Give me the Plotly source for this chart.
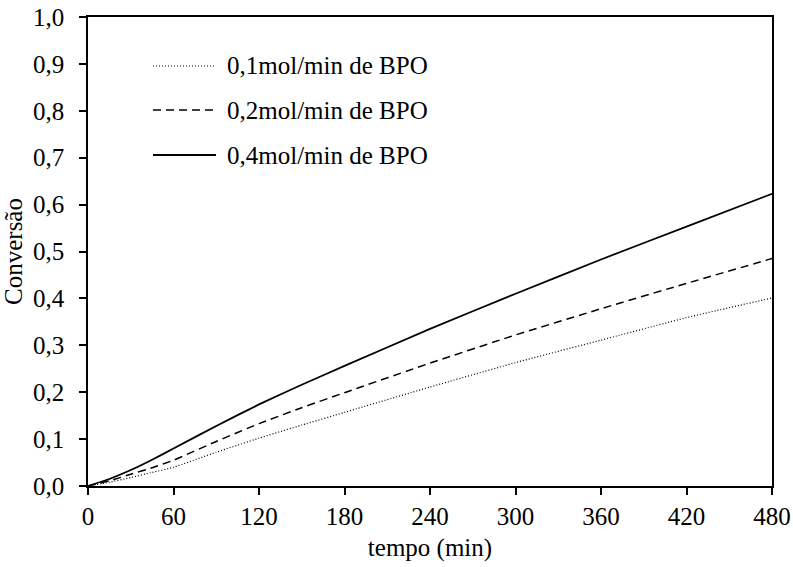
import plotly.graph_objects as go

tempo = [0, 15, 30, 45, 60, 90, 120, 150, 180, 240, 300, 360, 420, 480]
conv_01 = [0, 0.008, 0.018, 0.029, 0.040, 0.072, 0.102, 0.130, 0.157, 0.211, 0.263, 0.311, 0.359, 0.401]
conv_02 = [0, 0.011, 0.025, 0.039, 0.055, 0.095, 0.133, 0.167, 0.199, 0.262, 0.322, 0.378, 0.432, 0.485]
conv_04 = [0, 0.015, 0.034, 0.056, 0.080, 0.128, 0.174, 0.216, 0.256, 0.335, 0.410, 0.483, 0.553, 0.623]

labels = ["0,1mol/min de BPO", "0,2mol/min de BPO", "0,4mol/min de BPO"]
series = [conv_01, conv_02, conv_04]
dashes = ["1px,2px", "8px,5px", "solid"]
widths = [1.2, 1.5, 1.8]

FONT = "Liberation Serif"
FS = 25
fig = go.Figure()
for lab, ys, d, w in zip(labels, series, dashes, widths):
    fig.add_trace(go.Scatter(x=tempo, y=ys, mode="lines", name=lab,
                             line=dict(color="black", width=w, dash=d, shape="spline", smoothing=0.4),
                             showlegend=False))

# manual legend (paper coordinates)
legend_y = [66, 110, 155]
H = 567; T = 17; B = 81; L = 88; R = 21; W = 793
ph = H - T - B
pw = W - L - R
for lab, d, w, yp in zip(labels, dashes, widths, legend_y):
    yy = 1 - (yp - T) / ph
    x0 = (153 - L) / pw
    x1 = (216 - L) / pw
    fig.add_shape(type="line", xref="paper", yref="paper", x0=x0, x1=x1, y0=yy, y1=yy,
                  line=dict(color="black", width=w, dash=d))
    fig.add_annotation(xref="paper", yref="paper", x=(225 - L) / pw, y=yy, text=lab,
                       showarrow=False, xanchor="left", yanchor="middle",
                       font=dict(family=FONT, size=FS, color="black"))

fig.update_layout(
    width=W, height=H,
    margin=dict(l=L, r=R, t=T, b=B, autoexpand=False),
    paper_bgcolor="white", plot_bgcolor="white",
    separators=", ",
    font=dict(family=FONT, size=FS, color="black"),
    xaxis=dict(range=[0, 480], tickmode="linear", tick0=0, dtick=60,
               showgrid=False, zeroline=False, showline=True, mirror=True,
               linecolor="black", linewidth=1.5, ticks="outside", ticklen=7,
               tickwidth=1.5, tickcolor="black",
               tickfont=dict(family=FONT, size=FS),
               title=dict(text="tempo (min)", standoff=10, font=dict(family=FONT, size=FS))),
    yaxis=dict(range=[0, 1], tickmode="linear", tick0=0, dtick=0.1, tickformat=".1f",
               showgrid=False, zeroline=False, showline=True, mirror=True,
               linecolor="black", linewidth=1.5, ticks="outside", ticklen=7,
               tickwidth=1.5, tickcolor="black", ticklabelstandoff=10,
               tickfont=dict(family=FONT, size=FS),
               title=dict(text="Conversão", standoff=4, font=dict(family=FONT, size=FS))),
)

fig.write_html("out.html")
